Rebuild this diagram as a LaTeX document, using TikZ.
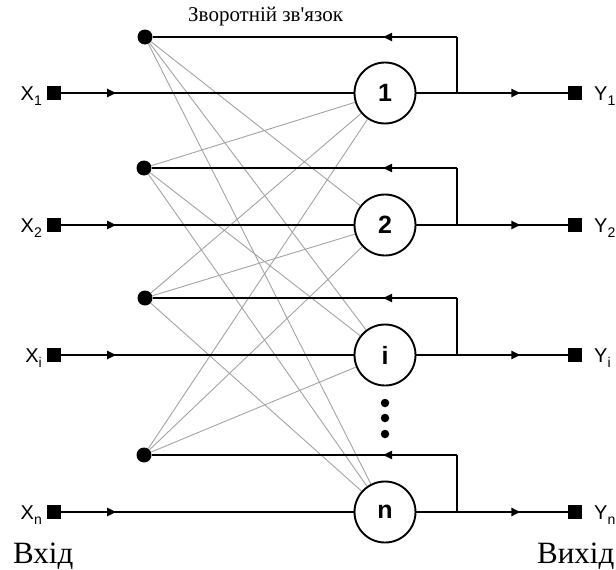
\documentclass[tikz,border=0pt]{standalone}
\usepackage{fontspec}
\setmainfont{Liberation Serif}
\setsansfont{Liberation Sans}
\usetikzlibrary{arrows.meta,decorations.markings}

% subscripted port label
\newcommand{\portlab}[2]{#1\raisebox{-0.5ex}{\fontsize{14}{14}\selectfont #2}}

\tikzset{
  neuron/.style={circle,draw,line width=1.9pt,fill=white,minimum size=61pt,inner sep=0pt,
                 font=\sffamily\bfseries\fontsize{25}{25}\selectfont},
  fbdot/.style={circle,fill=black,minimum size=15pt,inner sep=0pt},
  port/.style={rectangle,fill=black,minimum size=14pt,inner sep=0pt},
  portlabel/.style={inner sep=0pt,font=\sffamily\fontsize{20}{20}\selectfont},
  wire/.style={line width=2pt},
  link/.style={line width=0.9pt,draw=black!36},
  tipat/.style={postaction={decorate},
    decoration={markings,mark=at position #1 with {\arrow{Triangle[length=9pt,width=8pt]}}}},
  edots/.style={circle,fill=black,minimum size=8.5pt,inner sep=0pt},
}

\begin{document}
\begin{tikzpicture}[x=1pt,y=-1pt]
\useasboundingbox (0,0) rectangle (616,570);

% feedback distribution points
\node[fbdot] (d1) at (145,37) {};
\node[fbdot] (d2) at (144,168) {};
\node[fbdot] (d3) at (145,298) {};
\node[fbdot] (d4) at (144,455) {};

% neuron centres
\path (385,93)  coordinate (c1)
      (385,225) coordinate (c2)
      (385,355) coordinate (c3)
      (385,512) coordinate (c4);
\node[neuron] (n1) at (c1) {1};
\node[neuron] (n2) at (c2) {2};
\node[neuron] (n3) at (c3) {i};
\node[neuron] (n4) at (c4) {n};

% cross connections: each point feeds every other neuron
\foreach \d/\n in {d1/n2,d1/n3,d1/n4,
                   d2/n1,d2/n3,d2/n4,
                   d3/n1,d3/n2,d3/n4,
                   d4/n1,d4/n2,d4/n3}
  \draw[link] (\d) -- (\n);

% ellipsis between neuron i and neuron n
\node[edots] (e1) at (385,403) {};
\node[edots] (e2) at (385,418) {};
\node[edots] (e3) at (385,434) {};

% inputs and outputs
\foreach \k/\y/\s in {1/93/1,2/225/2,3/355/i,4/512/n}{
  \node[port] (x\k) at (54,\y) {};
  \node[port] (y\k) at (575,\y) {};
  \node[portlabel,anchor=base east] (xl\k) at (42,\y+7) {\portlab{X}{\s}};
  \node[portlabel,anchor=base west] (yl\k) at (594,\y+7) {\portlab{Y}{\s}};
  \coordinate (j\k) at (457,\y);
  \draw[wire,tipat=55pt] (x\k) -- (n\k);
  \draw[wire,tipat=104pt] (n\k) -- (y\k);
}

% feedback loops back to the distribution points
\foreach \k/\y in {1/37,2/168,3/298,4/455}{
  \coordinate (k\k) at (457,\y);
  \draw[wire] (j\k) -- (k\k);
  \draw[wire,tipat=74pt] (k\k) -- (d\k);
}

% captions
\node[anchor=base west,inner sep=0pt,font=\fontsize{21}{21}\selectfont] (fbtitle) at (188,21)
  {Зворотній зв\textquotesingle язок};
\node[anchor=base west,inner sep=0pt,font=\fontsize{31}{31}\selectfont] (inlab) at (13,563) {Вхід};
\node[anchor=base west,inner sep=0pt,font=\fontsize{31}{31}\selectfont] (outlab) at (537,563) {Вихід};
\end{tikzpicture}
\end{document}
